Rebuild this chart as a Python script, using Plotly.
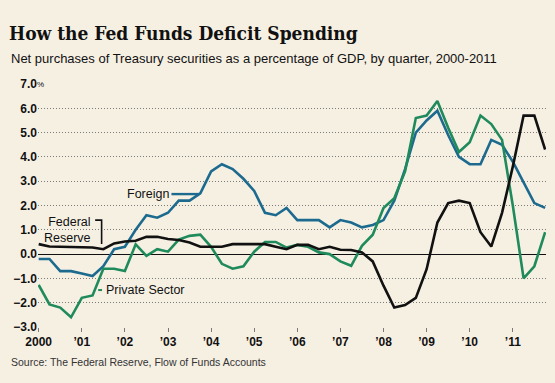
import plotly.graph_objects as go

# ---- data (quarterly, 2000Q1 .. 2011Q4), % of GDP ----
quarters = [2000 + i / 4 for i in range(48)]

foreign = [-0.2, -0.2, -0.7, -0.7, -0.8, -0.9, -0.5, 0.2, 0.3, 1.0, 1.6, 1.5,
           1.7, 2.2, 2.2, 2.5, 3.4, 3.7, 3.5, 3.1, 2.6, 1.7, 1.6, 1.9,
           1.4, 1.4, 1.4, 1.1, 1.4, 1.3, 1.1, 1.2, 1.4, 2.2, 3.5, 5.0,
           5.5, 5.9, 4.9, 4.0, 3.7, 3.7, 4.7, 4.5, 3.8, 2.95, 2.1, 1.9]

federal_reserve = [0.41, 0.31, 0.3, 0.3, 0.3, 0.27, 0.2, 0.44, 0.52, 0.55, 0.71, 0.71,
                   0.62, 0.58, 0.48, 0.3, 0.3, 0.3, 0.41, 0.41, 0.41, 0.41, 0.3, 0.2,
                   0.38, 0.38, 0.2, 0.3, 0.18, 0.17, 0.07, -0.3, -1.3, -2.2, -2.1, -1.8,
                   -0.62, 1.3, 2.1, 2.2, 2.1, 0.9, 0.31, 1.7, 3.6, 5.7, 5.7, 4.3]

private_sector = [-1.27, -2.07, -2.2, -2.6, -1.8, -1.7, -0.6, -0.6, -0.7, 0.4, -0.07, 0.2,
                  0.1, 0.6, 0.75, 0.8, 0.3, -0.4, -0.6, -0.5, 0.1, 0.5, 0.5, 0.27,
                  0.38, 0.3, 0.07, 0.0, -0.3, -0.48, 0.34, 0.8, 1.9, 2.3, 3.4, 5.6,
                  5.7, 6.3, 5.2, 4.2, 4.6, 5.7, 5.35, 4.7, 2.0, -1.0, -0.5, 0.9]

year_ticks = list(range(2000, 2012))
year_labels = ["2000", "\u201901", "\u201902", "\u201903", "\u201904", "\u201905",
               "\u201906", "\u201907", "\u201908", "\u201909", "\u201910", "\u201911"]

y_ticks = [-3, -2, -1, 0, 1, 2, 3, 4, 5, 6, 7]
y_labels = ["\u22123.0", "\u22122.0", "\u22121.0", "0.0", "1.0", "2.0", "3.0",
            "4.0", "5.0", "6.0", "7.0"]

BG = "#f6f0e3"
BLUE = "#1d6a8f"
GREEN = "#1f8a5b"
BLACK = "#111111"
GRID = "#7a7a7a"
SANS = "Liberation Sans, Arial, sans-serif"
TICKF = "Liberation Sans, Arial, sans-serif"

fig = go.Figure()
fig.add_trace(go.Scatter(x=quarters, y=foreign, mode="lines",
                         line=dict(color=BLUE, width=2.6), name="Foreign"))
fig.add_trace(go.Scatter(x=quarters, y=private_sector, mode="lines",
                         line=dict(color=GREEN, width=2.6), name="Private Sector"))
fig.add_trace(go.Scatter(x=quarters, y=federal_reserve, mode="lines",
                         line=dict(color=BLACK, width=2.6), name="Federal Reserve"))

fig.update_layout(
    width=555, height=383,
    paper_bgcolor=BG, plot_bgcolor=BG,
    margin=dict(l=38, r=9, t=84, b=56),
    showlegend=False,
    title=dict(text="<b>How the Fed Funds Deficit Spending</b>",
               x=9 / 555, xanchor="left", xref="container",
               y=1 - 33 / 383, yanchor="middle", yref="container",
               font=dict(family="DejaVu Serif Condensed, DejaVu Serif, serif",
                         size=19, color="#111111")),
    xaxis=dict(range=[1999.984, 2011.77], tickvals=year_ticks, ticktext=year_labels,
               showgrid=False, zeroline=False, showline=False,
               ticks="outside", ticklen=4, tickcolor=GRID, tickwidth=1,
               tickfont=dict(family=TICKF, size=12, color="#111111", weight="bold"),
               fixedrange=True),
    yaxis=dict(range=[-3.0, 7.0], tickvals=y_ticks, ticktext=y_labels,
               showgrid=True, gridcolor=GRID, gridwidth=1, griddash="1px,2px",
               zeroline=True, zerolinecolor="#111111", zerolinewidth=1.2,
               showline=False, ticks="",
               tickfont=dict(family=TICKF, size=12, color="#111111", weight="bold"),
               fixedrange=True),
)

# "%" after the top tick
fig.add_annotation(xref="paper", yref="y", x=-0.006, y=6.97, text="%",
                   showarrow=False, xanchor="left", yanchor="middle",
                   font=dict(family=TICKF, size=8, color="#111111"))

# subtitle & source
fig.add_annotation(xref="paper", yref="paper", x=-29 / 508, y=(326.7 - 59) / 242.7,
                   text="Net purchases of Treasury securities as a percentage of GDP, by quarter, 2000-2011",
                   showarrow=False, xanchor="left", yanchor="middle",
                   font=dict(family=SANS, size=13, color="#111111"))
fig.add_annotation(xref="paper", yref="paper", x=-29 / 508, y=(326.7 - 362) / 242.7,
                   text="Source: The Federal Reserve, Flow of Funds Accounts",
                   showarrow=False, xanchor="left", yanchor="middle",
                   font=dict(family=SANS, size=10.5, color="#333333"))

# series labels
fig.add_annotation(x=2003.06, y=2.47, text="Foreign", showarrow=False,
                   xanchor="right", yanchor="middle",
                   font=dict(family=SANS, size=12.5, color="#111111"))
fig.add_shape(type="line", x0=2003.08, x1=2003.72, y0=2.47, y1=2.47,
              line=dict(color=BLUE, width=2.4))

fig.add_annotation(x=2001.27, y=1.0, text="Federal<br>Reserve", showarrow=False,
                   xanchor="right", yanchor="middle", align="right",
                   font=dict(family=SANS, size=12.5, color="#111111"))
fig.add_shape(type="path", path="M 2001.31,1.40 L 2001.46,1.40 L 2001.46,0.42",
              line=dict(color=BLACK, width=1.6))

fig.add_annotation(x=2001.51, y=-1.48, text="Private Sector", showarrow=False,
                   xanchor="left", yanchor="middle",
                   font=dict(family=SANS, size=12.5, color="#111111"))
fig.add_shape(type="line", x0=2001.38, x1=2001.47, y0=-1.48, y1=-1.48,
              line=dict(color=GREEN, width=2))

fig.write_html(
    "out.html",
    config={"displayModeBar": False},
    post_script="document.body.style.margin='0';document.body.style.background='" + BG + "';",
)
